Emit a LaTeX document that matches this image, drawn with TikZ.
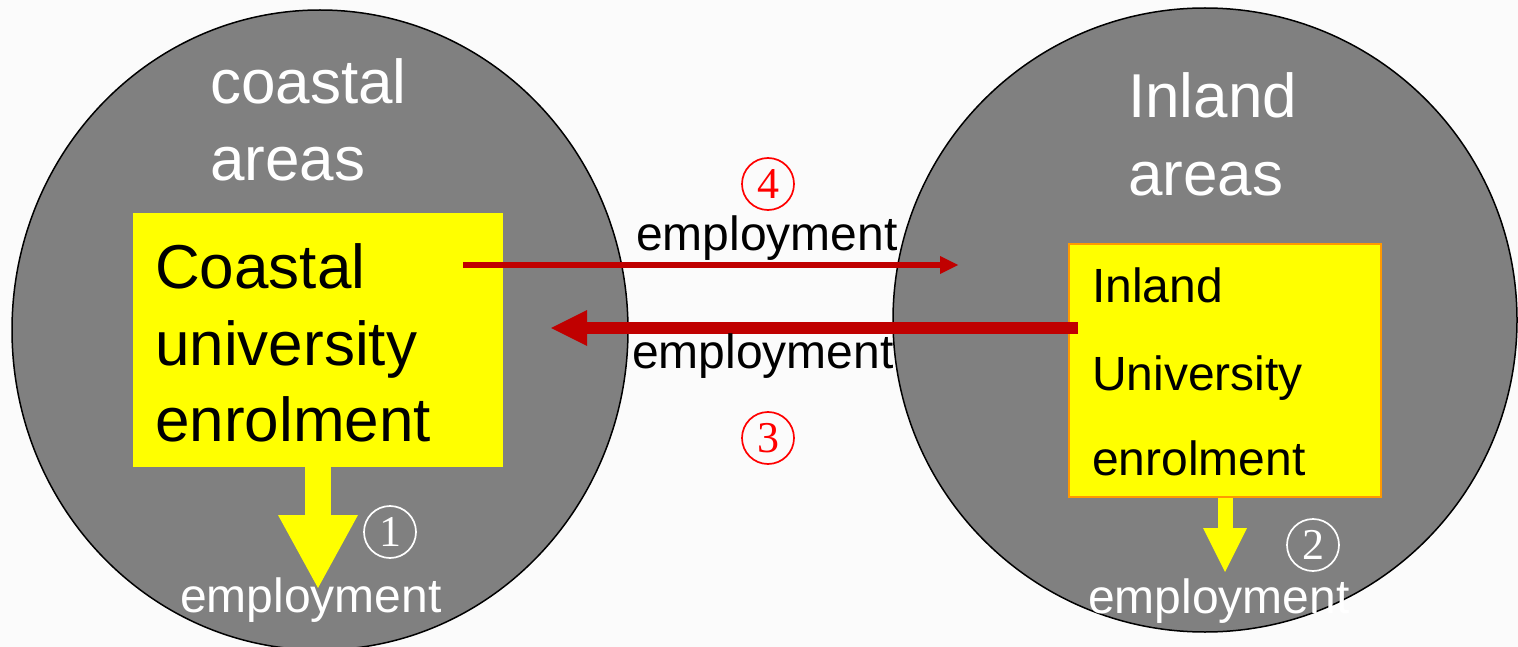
\documentclass[tikz,border=0pt]{standalone}
\usepackage{fontspec}
\setmainfont{Liberation Sans}
\newfontfamily\numfont{Liberation Serif}
\usetikzlibrary{shapes.geometric,arrows.meta}
\definecolor{flowred}{HTML}{C00000}
\definecolor{boxyellow}{HTML}{FFFF00}
\definecolor{boxorange}{HTML}{FF9900}
\definecolor{areagray}{HTML}{808080}
\definecolor{paper}{HTML}{FBFBFB}
\begin{document}
\begin{tikzpicture}[x=1pt,y=-1pt,
  area/.style={ellipse,draw=black,line width=1.5pt,fill=areagray,inner sep=0pt},
  ubox/.style={rectangle,fill=boxyellow,inner sep=0pt},
  lbl/.style={anchor=base west,inner sep=0pt},
  big/.style={font=\fontsize{62}{62}\selectfont},
  mid/.style={font=\fontsize{48}{48}\selectfont},
  num/.style={circle,draw,line width=1.7pt,minimum size=52pt,inner sep=0pt,
              font=\fontsize{44}{44}\selectfont\numfont},
  thinflow/.style={flowred,line width=6pt,-{Triangle[width=18pt,length=18pt,line width=0pt]}},
  thickflow/.style={flowred,line width=12pt,-{Triangle[width=36pt,length=36pt,line width=0pt]}},
  bigdown/.style={boxyellow,line width=26pt,-{Triangle[width=80pt,length=73pt,line width=0pt]}},
  smalldown/.style={boxyellow,line width=15pt,-{Triangle[width=44pt,length=44pt,line width=0pt]}}
]
% page
\fill[paper] (0,0) rectangle (1518,647);
\useasboundingbox (0,0) rectangle (1518,647);

% the two regions
\node[area,minimum width=616pt,minimum height=640pt] (coast) at (320,330) {};
\node[area,minimum width=624pt,minimum height=624pt] (inland) at (1205,320) {};

% region titles
\node[lbl,big,white] (ct1) at (210,104) {coastal};
\node[lbl,big,white] (ct2) at (210,181) {areas};
\node[lbl,big,white] (it1) at (1128,118) {Inland};
\node[lbl,big,white] (it2) at (1128,196) {areas};

% enrolment boxes
\node[ubox,minimum width=370pt,minimum height=254pt] (cbox) at (318,340) {};
\node[ubox,draw=boxorange,line width=2pt,minimum width=312pt,minimum height=253pt] (ibox) at (1225,370.5) {};

\node[lbl,big,black] (cb1) at (155,288) {Coastal};
\node[lbl,big,black] (cb2) at (155,365) {university};
\node[lbl,big,black] (cb3) at (155,441) {enrolment};
\node[lbl,mid,black] (ib1) at (1092,302) {Inland};
\node[lbl,mid,black] (ib2) at (1092,390) {University};
\node[lbl,mid,black] (ib3) at (1092,475) {enrolment};

% local employment
\coordinate (cdown) at (318,588);
\coordinate (idown) at (1225,572);
\draw[bigdown] (cbox.south) -- (cdown);
\draw[smalldown] (ibox.south) -- (idown);
\node[lbl,mid,white] (ce) at (180,612) {employment};
\node[lbl,mid,white] (ie) at (1088,613) {employment};
\node[num,white] (n1) at (390,532) {1};
\node[num,white] (n2) at (1313,545) {2};

% cross-region employment
\coordinate (eastfrom) at (463,265);
\coordinate (eastto) at (958,265);
\coordinate (westfrom) at (1078,328);
\coordinate (westto) at (551,328);
\draw[thinflow] (eastfrom) -- (eastto);
\draw[thickflow] (westfrom) -- (westto);
\node[lbl,mid,black] (e4) at (636,251) {employment};
\node[lbl,mid,black] (e3) at (632,368) {employment};
\node[num,red] (n4) at (768,184) {4};
\node[num,red] (n3) at (768,438) {3};
\end{tikzpicture}
\end{document}
